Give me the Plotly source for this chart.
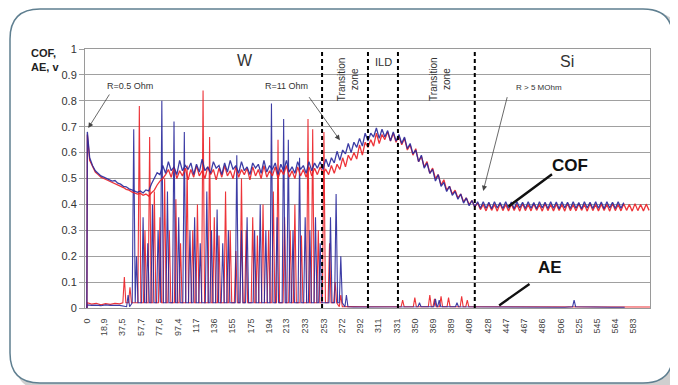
import plotly.graph_objects as go

# ---------------- data ----------------
x_tick_vals = [0, 18.9, 37.5, 57.7, 77.6, 97.4, 117, 136, 155, 175, 194, 213, 233, 253, 272,
               292, 311, 331, 350, 369, 389, 408, 428, 447, 467, 486, 506, 525, 545, 564, 583]
x_tick_text = ["0", "18,9", "37,5", "57,7", "77,6", "97,4", "117", "136", "155", "175", "194",
               "213", "233", "253", "272", "292", "311", "331", "350", "369", "389", "408",
               "428", "447", "467", "486", "506", "525", "545", "564", "583"]

cof_x = [0, 0.5] + list(range(3, 601, 3))

cof_blue = [0.0, 0.68,
    0.58, 0.55, 0.53, 0.52, 0.51, 0.505, 0.5, 0.497, 0.49, 0.492, 0.482, 0.478, 0.47,
    0.468, 0.46, 0.456, 0.45, 0.447, 0.452, 0.444, 0.456, 0.452, 0.48, 0.5, 0.522, 0.515,
    0.55, 0.52, 0.565, 0.53, 0.545, 0.515, 0.57, 0.53, 0.55, 0.535,
    0.56, 0.515, 0.555, 0.525, 0.575, 0.53, 0.545, 0.52, 0.565, 0.54,
    0.55, 0.515, 0.56, 0.525, 0.57, 0.535, 0.55, 0.52, 0.565, 0.53,
    0.545, 0.515, 0.56, 0.54, 0.555, 0.52, 0.57, 0.525, 0.55, 0.535,
    0.56, 0.515, 0.555, 0.53, 0.57, 0.525, 0.545, 0.52, 0.565, 0.535,
    0.55, 0.52, 0.565, 0.53, 0.56, 0.54, 0.565, 0.535,
    0.575, 0.545, 0.58, 0.56, 0.605, 0.57, 0.61, 0.595, 0.635, 0.6, 0.64, 0.62, 0.655, 0.625,
    0.675, 0.645, 0.675, 0.66, 0.695, 0.655, 0.69, 0.66, 0.685, 0.645, 0.68,
    0.645, 0.67, 0.635, 0.66, 0.615, 0.635, 0.595, 0.61, 0.565, 0.59, 0.54, 0.56, 0.52,
    0.535, 0.49, 0.515, 0.47, 0.485, 0.45, 0.47, 0.435, 0.45, 0.42, 0.44, 0.405, 0.425,
    0.395, 0.415, 0.39, 0.41, 0.385,
    0.41, 0.385, 0.408, 0.383, 0.41, 0.386, 0.407, 0.384, 0.41, 0.385, 0.409, 0.383, 0.41,
    0.386, 0.408, 0.384, 0.41, 0.385, 0.407, 0.383, 0.41, 0.386, 0.408, 0.384, 0.41, 0.385,
    0.409, 0.383, 0.41, 0.386, 0.408, 0.384, 0.41, 0.385, 0.407, 0.383, 0.41, 0.386, 0.408,
    0.384, 0.41, 0.385, 0.409, 0.383, 0.41, 0.386, 0.408, 0.384, 0.41, 0.385, 0.407]

cof_red = [0.0, 0.67,
    0.57, 0.545, 0.525, 0.515, 0.505, 0.5, 0.495, 0.49, 0.485, 0.483, 0.476, 0.47, 0.465,
    0.458, 0.455, 0.448, 0.445, 0.44, 0.443, 0.435, 0.44, 0.432, 0.445, 0.455, 0.475, 0.49,
    0.5, 0.515, 0.535, 0.505, 0.545, 0.5, 0.53, 0.51, 0.54, 0.495,
    0.535, 0.505, 0.55, 0.51, 0.53, 0.5, 0.545, 0.515, 0.535, 0.495,
    0.54, 0.505, 0.55, 0.51, 0.53, 0.5, 0.545, 0.505, 0.535, 0.515,
    0.54, 0.495, 0.545, 0.51, 0.535, 0.5, 0.55, 0.505, 0.53, 0.51,
    0.545, 0.5, 0.535, 0.515, 0.55, 0.505, 0.53, 0.5, 0.545, 0.51,
    0.535, 0.505, 0.545, 0.51, 0.54, 0.515, 0.545, 0.52,
    0.535, 0.515, 0.55, 0.52, 0.555, 0.535, 0.58, 0.545, 0.59, 0.57, 0.6, 0.575, 0.63,
    0.59, 0.64, 0.62, 0.65, 0.625, 0.675, 0.635, 0.67, 0.65, 0.68, 0.645, 0.675,
    0.64, 0.665, 0.63, 0.655, 0.61, 0.63, 0.59, 0.615, 0.565, 0.585, 0.545, 0.565, 0.52, 0.54,
    0.5, 0.515, 0.475, 0.495, 0.455, 0.47, 0.44, 0.455, 0.425, 0.44, 0.41, 0.425, 0.4, 0.415,
    0.39, 0.405, 0.38,
    0.4, 0.375, 0.402, 0.377, 0.4, 0.374, 0.403, 0.376, 0.4, 0.375, 0.401, 0.377, 0.4, 0.374,
    0.403, 0.376, 0.4, 0.375, 0.402, 0.377, 0.4, 0.374, 0.403, 0.376, 0.4, 0.375, 0.401,
    0.377, 0.4, 0.374, 0.403, 0.376, 0.4, 0.375, 0.402, 0.377, 0.4, 0.374, 0.403, 0.376,
    0.4, 0.375, 0.401, 0.377, 0.4, 0.374, 0.403, 0.376, 0.4, 0.375, 0.402, 0.377, 0.4, 0.374,
    0.403, 0.376, 0.4, 0.375, 0.401, 0.377]

# AE baseline samples (outside the spike zone)
ae_red_base_x = [0, 0.5, 5, 10, 15, 20, 25, 30, 35, 280, 300, 320, 330, 420, 440, 480, 520, 560, 601]
ae_red_base_y = [0, 0.02, 0.015, 0.018, 0.012, 0.017, 0.014, 0.018, 0.016, 0.006, 0.005, 0.006,
                 0.005, 0.005, 0.004, 0.005, 0.004, 0.005, 0.004]
ae_blue_base_x = [0, 0.5, 5, 10, 15, 20, 25, 30, 35, 285, 300, 320, 340, 420, 440, 480, 510, 530, 560, 574]
ae_blue_base_y = [0, 0.012, 0.01, 0.011, 0.009, 0.012, 0.01, 0.011, 0.01, 0.004, 0.004, 0.003,
                  0.004, 0.004, 0.003, 0.004, 0.003, 0.004, 0.003, 0.003]

# AE spikes: positions and peak heights
ae_red_spike_x = [40, 46, 56, 62, 67, 72, 78, 83, 88, 95, 100, 107, 113, 118, 124, 131, 136,
                  141, 148, 153, 159, 165, 170, 177, 182, 188, 194, 199, 204, 211, 217, 222,
                  229, 236, 241, 247, 253, 259, 265, 271,
                  337, 350, 366, 371, 378, 386, 400, 406]
ae_red_spike_h = [0.12, 0.08, 0.78, 0.3, 0.66, 0.45, 0.35, 0.5, 0.3, 0.42, 0.25, 0.55, 0.3, 0.4,
                  0.84, 0.66, 0.35, 0.28, 0.45, 0.3, 0.22, 0.5, 0.3, 0.35, 0.28, 0.4, 0.3, 0.45,
                  0.65, 0.35, 0.3, 0.4, 0.28, 0.73, 0.69, 0.3, 0.68, 0.25, 0.1, 0.05,
                  0.03, 0.04, 0.05, 0.035, 0.045, 0.04, 0.045, 0.03]
ae_blue_spike_x = [44, 50, 53, 60, 65, 70, 76, 80, 86, 93, 98, 104, 110, 115, 121, 128, 133,
                   139, 145, 151, 160, 165, 171, 179, 185, 191, 197, 203, 210, 215, 220, 227,
                   233, 238, 244, 249, 260, 266, 271, 277,
                   355, 372, 376, 395, 520]
ae_blue_spike_h = [0.05, 0.69, 0.2, 0.35, 0.25, 0.4, 0.3, 0.8, 0.45, 0.72, 0.35, 0.68, 0.3,
                   0.35, 0.25, 0.45, 0.3, 0.38, 0.25, 0.3, 0.59, 0.3, 0.35, 0.3, 0.4, 0.3, 0.79,
                   0.35, 0.73, 0.65, 0.3, 0.58, 0.35, 0.3, 0.35, 0.25, 0.35, 0.44, 0.2, 0.05,
                   0.02, 0.035, 0.03, 0.02, 0.03]

zone_bounds = [251, 300, 332, 414]

# ---------------- helpers ----------------
def build_ae(bx, by, sx, sh, w=1.6, base=0.02):
    pts = list(zip(bx, by))
    for xs, hs in zip(sx, sh):
        b = base if hs > 0.06 else 0.005
        pts += [(xs - w, b), (xs, hs), (xs + w, b)]
    pts.sort(key=lambda p: p[0])
    return [p[0] for p in pts], [p[1] for p in pts]

RED = "rgba(235,30,35,0.9)"
BLUE = "rgba(40,40,155,0.9)"

fig = go.Figure()
ax_r, ay_r = build_ae(ae_red_base_x, ae_red_base_y, ae_red_spike_x, ae_red_spike_h)
ax_b, ay_b = build_ae(ae_blue_base_x, ae_blue_base_y, ae_blue_spike_x, ae_blue_spike_h)
fig.add_trace(go.Scatter(x=ax_r, y=ay_r, mode="lines", line=dict(color=RED, width=1.1), showlegend=False))
fig.add_trace(go.Scatter(x=ax_b, y=ay_b, mode="lines", line=dict(color=BLUE, width=1.1), showlegend=False))
fig.add_trace(go.Scatter(x=cof_x[:len(cof_red)], y=cof_red, mode="lines",
                         line=dict(color=RED, width=1.3), showlegend=False))
fig.add_trace(go.Scatter(x=cof_x[:len(cof_blue)], y=cof_blue, mode="lines",
                         line=dict(color=BLUE, width=1.3), showlegend=False))

# ---------------- layout geometry (page has an 8px body margin) ----------------
OFF = 8
W, H = 678 - OFF, 385 - OFF
PL, PR, PT, PB = 85 - OFF, 650 - OFF, 49 - OFF, 308 - OFF


def px2paper(px, py):
    return (px - PL) / (PR - PL), (PB - py) / (PB - PT)


def rounded_path(L, T, R, B, r):
    def p(x, y):
        a, b = px2paper(x, y)
        return f"{a:.5f},{b:.5f}"
    return (f"M {p(L + r, T)} L {p(R - r, T)} Q {p(R, T)} {p(R, T + r)} "
            f"L {p(R, B - r)} Q {p(R, B)} {p(R - r, B)} L {p(L + r, B)} "
            f"Q {p(L, B)} {p(L, B - r)} L {p(L, T + r)} Q {p(L, T)} {p(L + r, T)} Z")

fig.add_shape(type="path", xref="paper", yref="paper", layer="below",
              path=rounded_path(15 - OFF, 12 - OFF, 680 - OFF, 390 - OFF, 30),
              fillcolor="#cfcfcf", line=dict(width=0))
fig.add_shape(type="path", xref="paper", yref="paper", layer="below",
              path=rounded_path(10 - OFF, 0.9, 673 - OFF, 383 - OFF, 30),
              fillcolor="white", line=dict(color="#5f7f90", width=1.5))

for xb in zone_bounds:
    fig.add_shape(type="line", xref="x", yref="y", x0=xb, x1=xb, y0=0, y1=1,
                  line=dict(color="black", width=2, dash="4px,3px"))

ann = []
def txt(x, y, s, size, bold=False, color="#333", angle=0, **kw):
    ann.append(dict(x=x, y=y, xref="x", yref="y", text=(f"<b>{s}</b>" if bold else s),
                    showarrow=False, textangle=angle,
                    font=dict(size=size, color=color, family="Liberation Sans, Arial"), **kw))

txt(169, 0.955, "W", 16)
txt(512, 0.95, "Si", 16)
txt(317, 0.95, "ILD", 11)
txt(278, 0.885, "Transition<br>zone", 10, angle=-90)
txt(377, 0.885, "Transition<br>zone", 10, angle=-90)
txt(46, 0.857, "R=0.5 Ohm", 9)
txt(213, 0.857, "R=11 Ohm", 9)
txt(482, 0.853, "R &gt; 5 MOhm", 8)
txt(516, 0.552, "COF", 17, bold=True, color="#111")
txt(494, 0.158, "AE", 17, bold=True, color="#111")

def arrow(x0, y0, x1, y1, head=True, width=0.8, color="#444"):
    ann.append(dict(x=x1, y=y1, ax=x0, ay=y0, xref="x", yref="y", axref="x", ayref="y",
                    text="", showarrow=True, arrowhead=2 if head else 0, arrowsize=1.3,
                    arrowwidth=width, arrowcolor=color, standoff=0, startstandoff=0))

arrow(25, 0.83, 1.5, 0.695)
arrow(236, 0.82, 270, 0.648)
arrow(449, 0.82, 423, 0.452)
arrow(498, 0.521, 450, 0.392, head=False, width=2.4, color="#111")
arrow(474, 0.097, 440, 0.01, head=False, width=2.4, color="#111")

ax0, ay0 = px2paper(29 - OFF, 60 - OFF)
ann.append(dict(x=ax0, y=ay0, xref="paper", yref="paper", xanchor="left", yanchor="middle",
                align="left", showarrow=False, text="<b>COF,<br>AE, v</b>",
                font=dict(size=11, color="#222", family="Liberation Sans, Arial")))

fig.update_layout(
    width=W, height=H,
    margin=dict(l=PL, r=W - PR, t=PT, b=H - PB, pad=0, autoexpand=False),
    paper_bgcolor="white", plot_bgcolor="rgba(0,0,0,0)",
    annotations=ann,
    font=dict(family="Liberation Sans, Arial"),
    xaxis=dict(range=[-2, 601], tickmode="array", tickvals=x_tick_vals, ticktext=x_tick_text,
               tickangle=-90, tickfont=dict(size=9, color="#444"), showgrid=False,
               showline=True, linecolor="#9a9a9a", linewidth=1, mirror=True, ticks="",
               ticklabelstandoff=6, zeroline=False, automargin=False),
    yaxis=dict(range=[0, 1], tickfont=dict(size=11, color="#333"),
               showgrid=True, gridcolor="#a0a0a0", gridwidth=1.2, showline=True,
               linecolor="#9a9a9a", linewidth=1, mirror=True, ticks="outside", ticklen=5,
               tickcolor="#a0a0a0", zeroline=False, automargin=False,
               tickvals=[0, 0.1, 0.2, 0.3, 0.4, 0.5, 0.6, 0.7, 0.8, 0.9, 1],
               ticktext=["0", "0.1", "0.2", "0.3", "0.4", "0.5", "0.6", "0.7", "0.8", "0.9", "1"]),
)

fig.write_html("out.html")
